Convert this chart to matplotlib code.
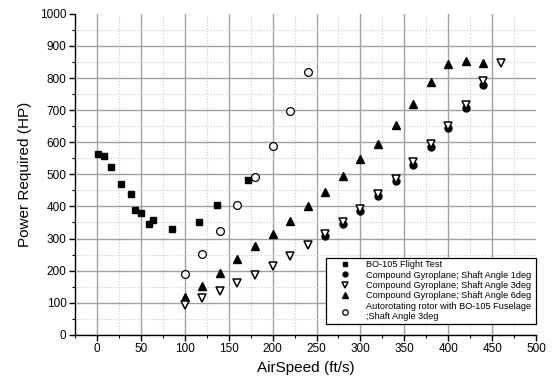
import matplotlib
matplotlib.use('Agg')
import matplotlib.pyplot as plt
from matplotlib.ticker import MultipleLocator

plt.rcParams['font.family'] = ['Liberation Sans', 'DejaVu Sans']

# BO-105 flight test
bo_x = [1.5, 8, 16, 28, 38.4, 43.7, 50, 59.7, 64, 85.5, 116, 136.5, 172.5]
bo_y = [564, 557, 522, 471, 438, 389, 381, 345, 358, 329, 352, 406, 482]

# Compound gyroplane, shaft angle 1deg
c1_x = [260, 280, 300, 320, 340, 360, 380, 400, 420, 440]
c1_y = [308, 346, 386, 431, 478, 528, 586, 643, 707, 779]

# Compound gyroplane, shaft angle 3deg
c3_x = [100, 120, 140, 160, 180, 200, 220, 240, 260, 280, 300, 320,
        340, 360, 380, 400, 420, 440, 460]
c3_y = [93, 114, 138, 161, 186, 213, 245, 279, 315, 352, 392, 439,
        486, 537, 594, 652, 716, 790, 848]

# Compound gyroplane, shaft angle 6deg
c6_x = [100, 120, 140, 160, 180, 200, 220, 240, 260, 280, 300, 320,
        340, 360, 380, 400, 420, 440]
c6_y = [118, 153, 193, 236, 276, 313, 356, 402, 444, 495, 549, 595,
        654, 720, 788, 844, 853, 848]

# Autorotating rotor with BO-105 fuselage
ar_x = [100, 120, 140, 160, 180, 200, 220, 240]
ar_y = [188, 251, 323, 403, 491, 589, 698, 818]

fig = plt.figure(figsize=(5.55, 3.84), dpi=100)
ax = fig.add_axes([0.135, 0.128, 0.831, 0.836])

ax.plot(bo_x, bo_y, 's', color='black', markersize=4.8, label='BO-105 Flight Test', zorder=3)
ax.plot(c1_x, c1_y, 'o', color='black', markersize=5,
        label='Compound Gyroplane; Shaft Angle 1deg', zorder=3)
ax.plot(c3_x, c3_y, 'v', color='black', markerfacecolor='white', markersize=5.8,
        markeredgewidth=1.1, label='Compound Gyroplane; Shaft Angle 3deg', zorder=4)
ax.plot(c6_x, c6_y, '^', color='black', markersize=5.8,
        label='Compound Gyroplane; Shaft Angle 6deg', zorder=3)
ax.plot(ar_x, ar_y, 'o', color='black', markerfacecolor='white', markersize=5.6,
        markeredgewidth=0.9,
        label='Autorotating rotor with BO-105 Fuselage\n;Shaft Angle 3deg', zorder=3)

ax.set_xlim(-25, 500)
ax.set_ylim(0, 1000)
ax.xaxis.set_major_locator(MultipleLocator(50))
ax.xaxis.set_minor_locator(MultipleLocator(25))
ax.yaxis.set_major_locator(MultipleLocator(100))
ax.yaxis.set_minor_locator(MultipleLocator(50))

ax.grid(True, which='major', color='#a0a0a0', linewidth=1.0, linestyle='-')
ax.grid(True, which='minor', color='#c8c8c8', linewidth=0.8, linestyle=':')
ax.set_axisbelow(True)

fig.canvas.draw()
for gl, v in zip(ax.yaxis.get_gridlines(), ax.get_yticks()):
    if v >= 1000:
        gl.set_visible(False)
for gl, v in zip(ax.xaxis.get_gridlines(), ax.get_xticks()):
    if v >= 500:
        gl.set_visible(False)

for s in ['top', 'right']:
    ax.spines[s].set_visible(False)
for s in ['left', 'bottom']:
    ax.spines[s].set_linewidth(1.0)

ax.tick_params(which='major', direction='out', length=4, width=1, labelsize=8.5, pad=2)
ax.tick_params(which='minor', direction='out', length=2.5, width=0.8)

ax.set_xlabel('AirSpeed (ft/s)', fontsize=11, labelpad=4)
ax.set_ylabel('Power Required (HP)', fontsize=11, labelpad=6)

leg = ax.legend(loc='lower left', bbox_to_anchor=(0.544, 0.034, 0.456, 0.225),
                mode='expand', fontsize=6.6, frameon=True, fancybox=False,
                edgecolor='black', framealpha=1, borderpad=0.3, labelspacing=0.15,
                handletextpad=0.5, handlelength=3.6, borderaxespad=0,
                markerscale=0.7)
leg.get_frame().set_linewidth(0.9)

fig.savefig('out.png', dpi=100)
